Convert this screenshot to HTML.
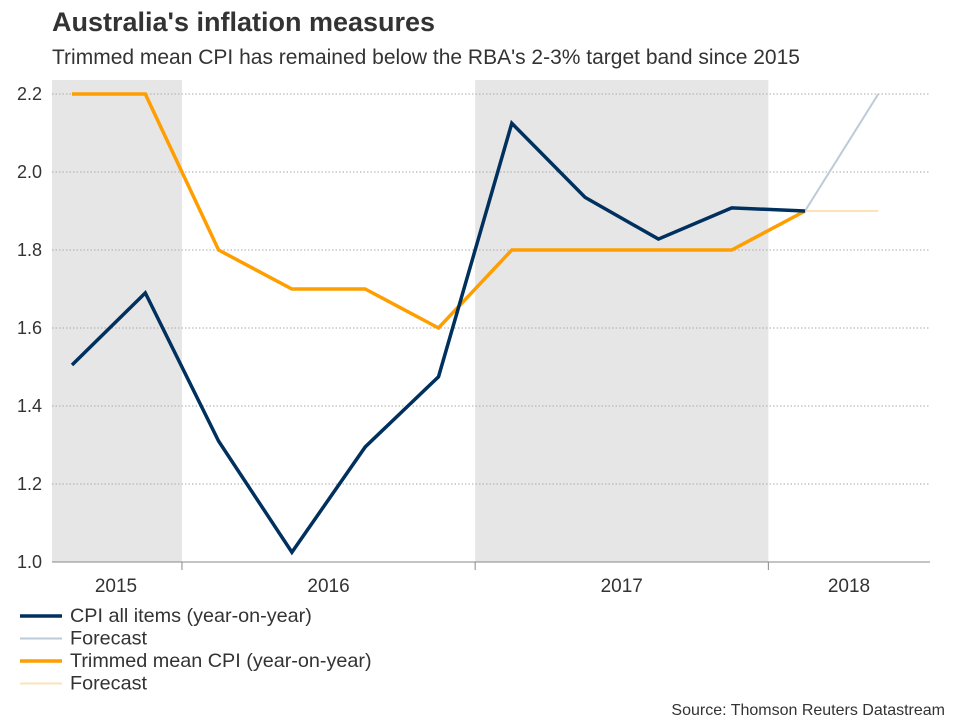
<!DOCTYPE html>
<html><head><meta charset="utf-8"><style>
body{margin:0;background:#fff;font-family:"Liberation Sans",sans-serif;}
svg text{font-family:"Liberation Sans",sans-serif;}
</style></head><body>
<svg id="chart" width="960" height="720">
<text x="52" y="31" font-size="27" font-weight="bold" fill="#333">Australia's inflation measures</text>
<text x="52" y="64" font-size="21" fill="#333">Trimmed mean CPI has remained below the RBA's 2-3% target band since 2015</text>
<g id="plot"></g>
<text x="945" y="715" font-size="16" fill="#333" text-anchor="end">Source: Thomson Reuters Datastream</text>
</svg>
<script>
const cpi=[1.505,1.69,1.31,1.025,1.295,1.475,2.125,1.935,1.828,1.908,1.9];
const cpiForecast=[1.9,2.2];
const trimmed=[2.2,2.2,1.8,1.7,1.7,1.6,1.8,1.8,1.8,1.8,1.9];
const trimmedForecast=[1.9,1.9];
const yTicks=[1.0,1.2,1.4,1.6,1.8,2.0,2.2];
const years=["2015","2016","2017","2018"];
const yearCenters=[0.6,3.5,7.5,10.6];
const yearBounds=[1.5,5.5,9.5];
const shaded=[[-0.3,1.5],[5.5,9.5]];

const NS="http://www.w3.org/2000/svg";
const g=document.getElementById('plot');
const X0=52,X1=930,Y0=562;
const x=i=>72+i*73.3;
const y=v=>Y0-(v-1.0)*390;
function el(t,a,p){const e=document.createElementNS(NS,t);for(const k in a)e.setAttribute(k,a[k]);(p||g).appendChild(e);return e;}
shaded.forEach(s=>{const r=el('rect',{x:Math.max(X0,x(s[0])),y:80,width:x(s[1])-Math.max(X0,x(s[0])),height:Y0-80,fill:'#e6e6e6'});

});
yTicks.forEach(t=>{
 if(t>1.0){const l=el('line',{x1:X0,x2:X1,y1:y(t),y2:y(t),stroke:'#aaa','stroke-dasharray':'1.5,2','stroke-width':1});
 
 }
 const tx=el('text',{x:42,y:y(t)+6,'font-size':18,fill:'#333','text-anchor':'end'});tx.textContent=t.toFixed(1);
 
 
});
const ax=el('line',{x1:X0,x2:X1,y1:Y0,y2:Y0,stroke:'#888','stroke-width':1});


yearBounds.forEach(b=>{const l=el('line',{x1:x(b),x2:x(b),y1:Y0,y2:Y0+8,stroke:'#888'});

});
years.forEach((yr,i)=>{const t=el('text',{x:x(yearCenters[i]),y:592,'font-size':19,fill:'#333','text-anchor':'middle'});t.textContent=yr;

});
function line(vals,off,color,w,name){const p=el('polyline',{points:vals.map((v,i)=>x(i+off)+','+y(v)).join(' '),fill:'none',stroke:color,'stroke-width':w,'stroke-linejoin':'miter'});

}
line(trimmedForecast,10,'#fde3b8',2,'trimmed-forecast-line');
line(cpiForecast,10,'#bccad9',2,'cpi-forecast-line');
line(trimmed,0,'#ff9e00',3.5,'trimmed-mean-line');
line(cpi,0,'#00305e',3.5,'cpi-line');
const leg=[['CPI all items (year-on-year)','#00305e',3.5],['Forecast','#bccad9',2],['Trimmed mean CPI (year-on-year)','#ff9e00',3.5],['Forecast','#fde3b8',2]];
leg.forEach((L,i)=>{const yy=616+i*22.5;
 const l=el('line',{x1:20,x2:62,y1:yy,y2:yy,stroke:L[1],'stroke-width':L[2]});
 
 
 const t=el('text',{x:70,y:yy+6,'font-size':19.8,fill:'#333'});t.textContent=L[0];
 
 
});
</script>
</body></html>
